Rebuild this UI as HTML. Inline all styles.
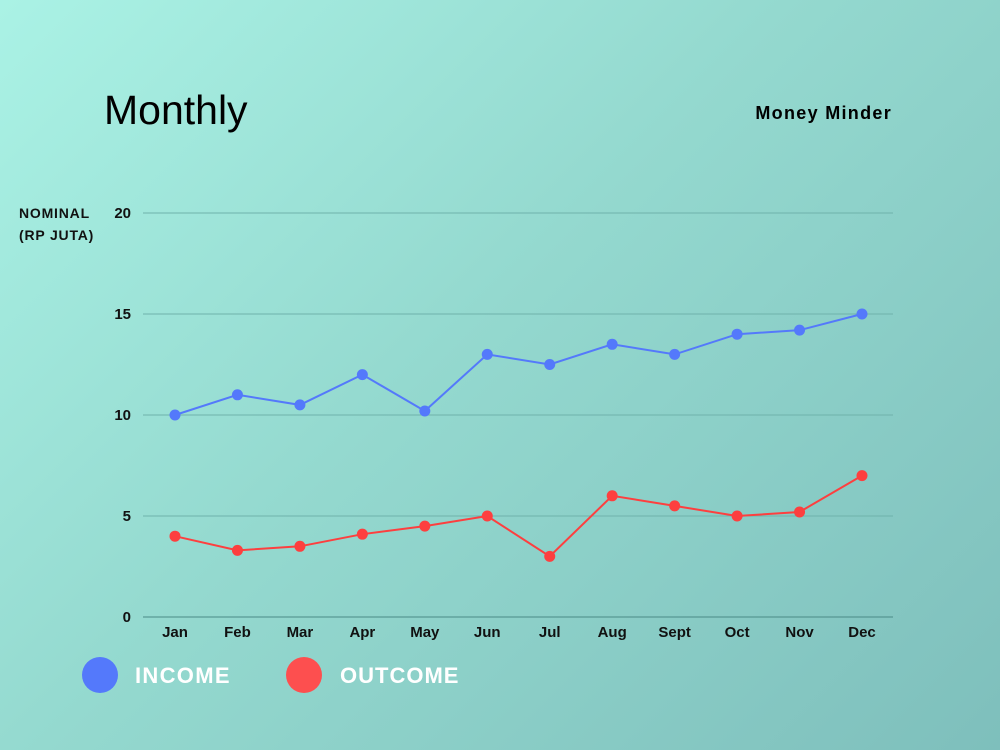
<!DOCTYPE html>
<html><head><meta charset="utf-8"><style>
html,body{margin:0;padding:0}
body{width:1000px;height:750px;overflow:hidden;background:linear-gradient(135deg,#aaf2e5 0%,#94d9cf 45%,#7ebfbc 100%);font-family:"Liberation Sans",sans-serif}
svg{position:absolute;left:0;top:0}
</style></head><body>
<svg width="1000" height="750">
<text x="104" y="124" font-size="41" fill="#000">Monthly</text>
<text x="892" y="119" font-size="18" font-weight="bold" text-anchor="end" fill="#000" letter-spacing="1.3">Money Minder</text>
<text x="19" y="218" font-size="14" font-weight="bold" fill="#111" letter-spacing="0.8">NOMINAL</text>
<text x="19" y="240" font-size="14" font-weight="bold" fill="#111" letter-spacing="0.8">(RP JUTA)</text>
<g id="grid"></g><g id="series"></g>
<g>
<circle cx="100" cy="675" r="18" fill="#5479fb"/>
<text x="135" y="683" font-size="22" font-weight="bold" fill="#fff" letter-spacing="1.3">INCOME</text>
<circle cx="304" cy="675" r="18" fill="#fd4f4f"/>
<text x="340" y="683" font-size="22" font-weight="bold" fill="#fff" letter-spacing="1">OUTCOME</text>
</g>
</svg>
<script>
const months=["Jan","Feb","Mar","Apr","May","Jun","Jul","Aug","Sept","Oct","Nov","Dec"];
const income=[10,11,10.5,12,10.2,13,12.5,13.5,13,14,14.2,15];
const outcome=[4,3.3,3.5,4.1,4.5,5,3,6,5.5,5,5.2,7];
const yTicks=[0,5,10,15,20];
const NS="http://www.w3.org/2000/svg";
const x=i=>175+i*(862-175)/11;
const y=v=>617-v*(617-213)/20;
function mk(t,a,p){const e=document.createElementNS(NS,t);for(const k in a)e.setAttribute(k,a[k]);p.appendChild(e);return e;}
const grid=document.getElementById('grid'),ser=document.getElementById('series');
yTicks.forEach(v=>{
 const l=mk('line',{x1:143,x2:893,y1:y(v),y2:y(v),stroke:v===0?'#4a8a86':'#6fb2ab','stroke-width':1},grid);
 
 
 const t=mk('text',{x:131,y:y(v)+5,'font-size':15,'font-weight':'bold','text-anchor':'end',fill:'#111'},grid);
 t.textContent=v;
 
 
});
months.forEach((m,i)=>{
 const t=mk('text',{x:x(i),y:637,'font-size':15,'font-weight':'bold','text-anchor':'middle',fill:'#111'},grid);
 t.textContent=m;
 
 
});
function draw(data,color,name){
 const p=mk('polyline',{points:data.map((v,i)=>x(i)+','+y(v)).join(' '),fill:'none',stroke:color,'stroke-width':2},ser);
 
 
 data.forEach((v,i)=>{
  const c=mk('circle',{cx:x(i),cy:y(v),r:5.5,fill:color},ser);
  
  
 });
}
draw(income,'#5479fb','income');
draw(outcome,'#fd3f3f','outcome');
</script>
</body></html>
